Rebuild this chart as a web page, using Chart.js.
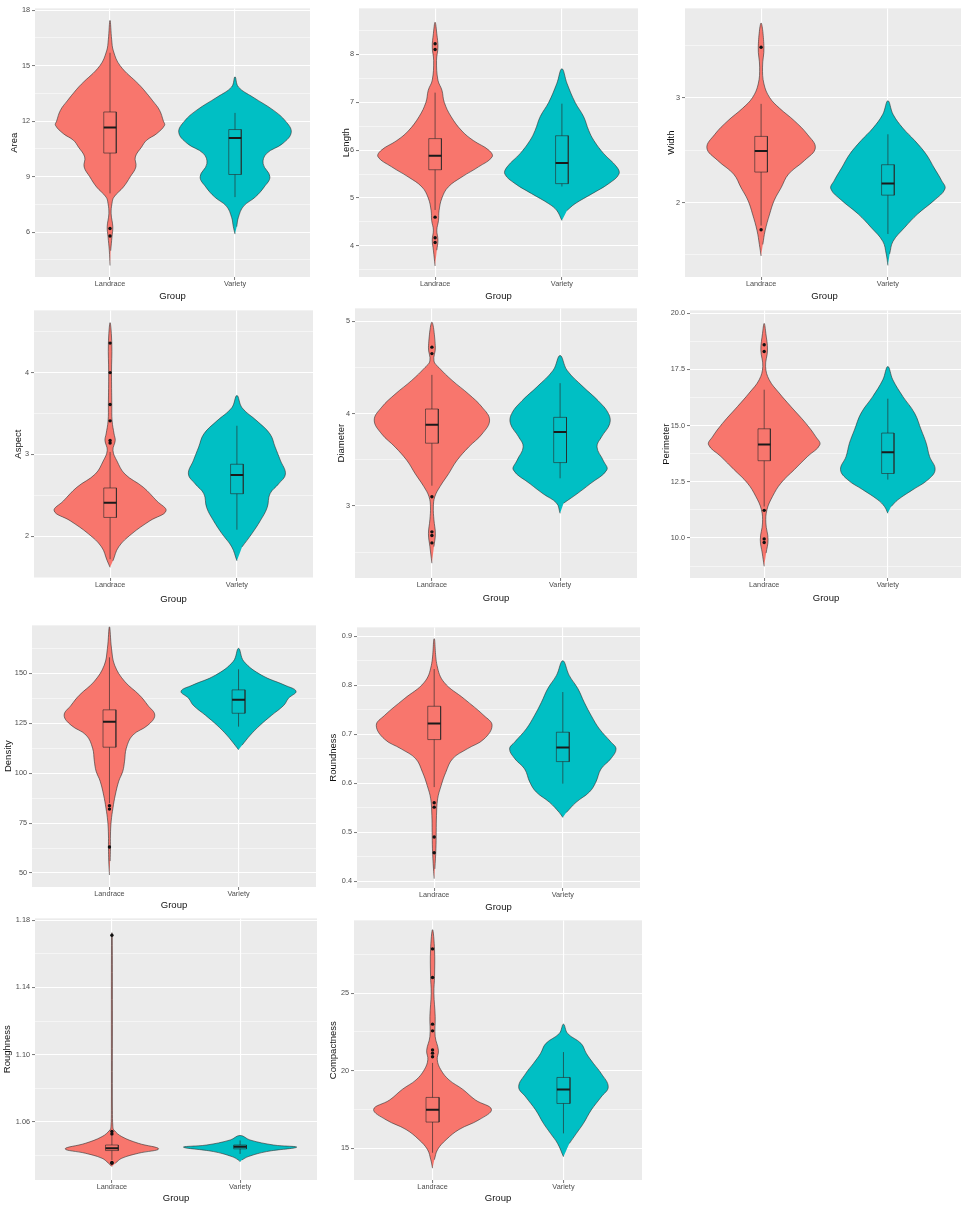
<!DOCTYPE html>
<html><head><meta charset="utf-8">
<script src="https://cdn.jsdelivr.net/npm/chart.js@4.4.1/dist/chart.umd.min.js"></script>
<style>
html,body{margin:0;padding:0;background:#fff;width:961px;height:1207px;overflow:hidden;position:relative}
.pn{position:absolute}
</style></head><body>
<script>
// ---------- DATA ----------
const GROUPS = ['Landrace', 'Variety'];
const COLORS = ['#F8766D', '#00BFC4'];
const X_TITLE = 'Group';

// violin profiles: [value, relative density width]
// box stats: [lower whisker, Q1, median, Q3, upper whisker]
const areaLandrace = [[4.2,0],[5.0,0.012],[5.75,0.035],[6.3,0.05],[7.0,0.02],[7.55,0.035],[7.9,0.07],[8.45,0.24],[9.0,0.36],[9.53,0.46],[10.07,0.45],[10.6,0.56],[10.97,0.65],[11.33,0.83],[11.78,0.97],[12.0,0.95],[12.6,0.88],[13.1,0.76],[13.7,0.6],[14.0,0.51],[15.0,0.18],[15.8,0.06],[16.4,0.03],[17.45,0]];
const areaVariety = [[5.9,0],[6.3,0.03],[6.8,0.06],[7.4,0.15],[7.9,0.36],[8.45,0.52],[9.0,0.62],[9.7,0.5],[10.25,0.56],[10.8,0.85],[11.4,1.0],[12.0,0.9],[12.6,0.68],[13.3,0.32],[13.85,0.06],[14.4,0]];
const areaBoxLandrace = [8.1, 10.28, 11.66, 12.5, 15.7];
const areaBoxVariety = [7.9, 9.12, 11.1, 11.55, 12.45];
const areaOutLandrace = [6.2, 5.8];
const areaOutVariety = [];
const areaTicks = [6, 9, 12, 15, 18];
const areaTickLabels = ['6', '9', '12', '15', '18'];
const areaMinor = [4.5, 7.5, 10.5, 13.5, 16.5];

const lengthLandrace = [[3.58,0],[3.91,0.03],[4.12,0.05],[4.33,0.03],[4.53,0.06],[4.74,0.07],[5.0,0.12],[5.23,0.23],[5.44,0.47],[5.65,0.76],[5.86,1.0],[6.0,0.94],[6.2,0.67],[6.4,0.47],[6.7,0.28],[7.0,0.16],[7.25,0.12],[7.46,0.05],[7.87,0.025],[8.15,0.05],[8.43,0.03],[8.67,0]];
const lengthVariety = [[4.53,0],[4.74,0.09],[4.88,0.23],[5.09,0.53],[5.3,0.82],[5.5,1.0],[5.65,0.96],[5.93,0.73],[6.2,0.56],[6.41,0.47],[6.7,0.38],[7.0,0.23],[7.39,0.09],[7.7,0]];
const lengthBoxLandrace = [4.75, 5.59, 5.88, 6.24, 7.2];
const lengthBoxVariety = [5.24, 5.3, 5.73, 6.3, 6.97];
const lengthOutLandrace = [8.22, 8.1, 4.6, 4.17, 4.07];
const lengthOutVariety = [];
const lengthTicks = [4, 5, 6, 7, 8];
const lengthTickLabels = ['4', '5', '6', '7', '8'];
const lengthMinor = [3.5, 4.5, 5.5, 6.5, 7.5, 8.5];

const widthLandrace = [[1.49,0],[1.6,0.03],[1.73,0.07],[1.89,0.15],[2.02,0.23],[2.14,0.35],[2.27,0.48],[2.4,0.76],[2.52,0.95],[2.65,0.81],[2.78,0.58],[2.9,0.32],[3.0,0.15],[3.13,0.05],[3.29,0.025],[3.48,0.05],[3.71,0]];
const widthVariety = [[1.4,0],[1.51,0.03],[1.63,0.09],[1.76,0.29],[1.89,0.52],[2.02,0.81],[2.13,1.0],[2.21,0.94],[2.33,0.81],[2.46,0.67],[2.59,0.47],[2.71,0.26],[2.84,0.09],[2.97,0]];
const widthBoxLandrace = [1.78, 2.29, 2.49, 2.63, 2.94];
const widthBoxVariety = [1.7, 2.07, 2.18, 2.36, 2.65];
const widthOutLandrace = [3.48, 1.74];
const widthOutVariety = [];
const widthTicks = [2, 3];
const widthTickLabels = ['2', '3'];
const widthMinor = [1.5, 2.5, 3.5];

const aspectLandrace = [[1.62,0],[1.7,0.05],[1.87,0.15],[2.03,0.38],[2.19,0.7],[2.31,0.98],[2.43,0.82],[2.6,0.58],[2.76,0.26],[2.92,0.12],[3.05,0.05],[3.17,0.09],[3.25,0.07],[3.41,0.035],[3.61,0.03],[4.0,0.025],[4.35,0.03],[4.61,0]];
const aspectVariety = [[1.7,0],[1.87,0.09],[2.03,0.26],[2.19,0.41],[2.35,0.53],[2.52,0.58],[2.64,0.73],[2.76,0.85],[2.93,0.76],[3.09,0.67],[3.25,0.58],[3.41,0.35],[3.57,0.09],[3.72,0]];
const aspectBoxLandrace = [1.72, 2.23, 2.41, 2.59, 3.03];
const aspectBoxVariety = [2.08, 2.52, 2.75, 2.88, 3.35];
const aspectOutLandrace = [4.36, 4.0, 3.61, 3.41, 3.17, 3.14];
const aspectOutVariety = [];
const aspectTicks = [2, 3, 4];
const aspectTickLabels = ['2', '3', '4'];
const aspectMinor = [1.5, 2.5, 3.5, 4.5];

const diameterLandrace = [[2.38,0],[2.56,0.035],[2.7,0.06],[2.85,0.035],[2.99,0.025],[3.1,0.05],[3.21,0.14],[3.35,0.29],[3.49,0.43],[3.64,0.64],[3.78,0.87],[3.93,1.0],[4.07,0.87],[4.21,0.64],[4.36,0.35],[4.5,0.12],[4.57,0.035],[4.72,0.06],[4.99,0]];
const diameterVariety = [[2.92,0],[3.03,0.06],[3.13,0.29],[3.24,0.52],[3.39,0.81],[3.49,0.75],[3.64,0.64],[3.75,0.72],[3.89,0.86],[4.0,0.84],[4.14,0.66],[4.29,0.4],[4.47,0.12],[4.63,0]];
const diameterBoxLandrace = [3.22, 3.68, 3.88, 4.05, 4.42];
const diameterBoxVariety = [3.3, 3.47, 3.8, 3.96, 4.33];
const diameterOutLandrace = [4.72, 4.65, 3.1, 2.72, 2.68, 2.6];
const diameterOutVariety = [];
const diameterTicks = [3, 4, 5];
const diameterTickLabels = ['3', '4', '5'];
const diameterMinor = [2.5, 3.5, 4.5];

const perimeterLandrace = [[8.74,0],[9.33,0.035],[9.93,0.07],[10.67,0.03],[11.26,0.05],[11.85,0.15],[12.44,0.3],[13.04,0.54],[13.63,0.78],[14.15,1.0],[14.5,0.93],[15.1,0.75],[15.85,0.48],[16.45,0.27],[17.04,0.09],[17.63,0.025],[18.37,0.06],[19.1,0.03],[19.55,0]];
const perimeterVariety = [[11.1,0],[11.4,0.06],[11.7,0.18],[12.15,0.45],[12.59,0.72],[13.04,0.85],[13.63,0.75],[14.22,0.69],[14.81,0.6],[15.56,0.48],[16.3,0.27],[17.04,0.09],[17.63,0]];
const perimeterBoxLandrace = [11.4, 13.44, 14.16, 14.86, 16.6];
const perimeterBoxVariety = [12.6, 12.87, 13.82, 14.67, 16.2];
const perimeterOutLandrace = [18.6, 18.3, 11.23, 9.96, 9.8];
const perimeterOutVariety = [];
const perimeterTicks = [10, 12.5, 15, 17.5, 20];
const perimeterTickLabels = ['10.0', '12.5', '15.0', '17.5', '20.0'];
const perimeterMinor = [8.75, 11.25, 13.75, 16.25, 18.75];

const densityLandrace = [[49,0],[56,0.012],[62.5,0.017],[69,0.017],[76,0.03],[82.5,0.06],[89,0.1],[96,0.16],[101,0.23],[106,0.26],[112.5,0.29],[119,0.4],[124,0.66],[129,0.78],[134,0.66],[139,0.52],[146,0.26],[154,0.09],[162.5,0.035],[173.3,0]];
const densityVariety = [[111.7,0],[114,0.06],[119,0.2],[124,0.37],[129,0.57],[134,0.78],[137.5,0.86],[141,0.99],[144,0.8],[149,0.4],[156,0.09],[162.5,0]];
const densityBoxLandrace = [85, 113, 125.8, 131.7, 158];
const densityBoxVariety = [123.3, 130, 136.8, 141.7, 152];
const densityOutLandrace = [83.7, 82, 63];
const densityOutVariety = [];
const densityTicks = [50, 75, 100, 125, 150];
const densityTickLabels = ['50', '75', '100', '125', '150'];
const densityMinor = [62.5, 87.5, 112.5, 137.5, 162.5];

const roundnessLandrace = [[0.405,0],[0.425,0.012],[0.466,0.03],[0.5,0.035],[0.534,0.04],[0.568,0.06],[0.595,0.12],[0.622,0.2],[0.65,0.32],[0.67,0.57],[0.69,0.86],[0.718,1.0],[0.738,0.86],[0.772,0.52],[0.806,0.17],[0.84,0.05],[0.895,0]];
const roundnessVariety = [[0.53,0],[0.54,0.06],[0.561,0.23],[0.582,0.46],[0.602,0.57],[0.629,0.66],[0.65,0.83],[0.67,0.92],[0.684,0.83],[0.711,0.63],[0.738,0.49],[0.765,0.37],[0.793,0.26],[0.82,0.11],[0.85,0]];
const roundnessBoxLandrace = [0.592, 0.689, 0.722, 0.757, 0.833];
const roundnessBoxVariety = [0.599, 0.644, 0.673, 0.704, 0.786];
const roundnessOutLandrace = [0.56, 0.551, 0.49, 0.458];
const roundnessOutVariety = [];
const roundnessTicks = [0.4, 0.5, 0.6, 0.7, 0.8, 0.9];
const roundnessTickLabels = ['0.4', '0.5', '0.6', '0.7', '0.8', '0.9'];
const roundnessMinor = [0.45, 0.55, 0.65, 0.75, 0.85];

const roughnessLandrace = [[1.0335,0],[1.0355,0.06],[1.0384,0.17],[1.0414,0.46],[1.044,0.81],[1.0473,0.46],[1.0513,0.17],[1.0552,0.035],[1.0572,0.017],[1.067,0.009],[1.1265,0.009],[1.171,0.006],[1.1725,0]];
const roughnessVariety = [[1.0364,0],[1.0374,0.03],[1.0394,0.14],[1.0424,0.46],[1.045,0.98],[1.0463,0.58],[1.0493,0.17],[1.052,0]];
const roughnessBoxLandrace = [1.0374, 1.043, 1.0443, 1.0463, 1.0517];
const roughnessBoxVariety = [1.041, 1.044, 1.0452, 1.0463, 1.049];
const roughnessOutLandrace = [1.171, 1.0543, 1.0528, 1.036, 1.0355];
const roughnessOutVariety = [];
const roughnessTicks = [1.06, 1.10, 1.14, 1.18];
const roughnessTickLabels = ['1.06', '1.10', '1.14', '1.18'];
const roughnessMinor = [1.04, 1.08, 1.12, 1.16];

const compactnessLandrace = [[13.7,0],[14.25,0.03],[14.9,0.085],[15.54,0.23],[16.2,0.45],[16.83,0.79],[17.5,1.0],[18.1,0.73],[18.8,0.51],[19.4,0.28],[20.06,0.14],[20.7,0.08],[21.3,0.1],[22.2,0.045],[23.5,0.045],[25,0.023],[26.1,0.034],[27.8,0.034],[29.1,0]];
const compactnessVariety = [[14.44,0],[15.3,0.1],[15.95,0.22],[16.6,0.34],[17.45,0.47],[18.3,0.64],[18.95,0.76],[19.82,0.64],[20.46,0.51],[21.1,0.39],[21.75,0.3],[22.4,0.07],[23.0,0]];
const compactnessBoxLandrace = [14.7, 16.68, 17.47, 18.27, 20.5];
const compactnessBoxVariety = [15.95, 17.88, 18.79, 19.56, 21.2];
const compactnessOutLandrace = [27.86, 26.01, 23.0, 22.57, 21.34, 21.13, 20.9];
const compactnessOutVariety = [];
const compactnessTicks = [15, 20, 25];
const compactnessTickLabels = ['15', '20', '25'];
const compactnessMinor = [17.5, 22.5, 27.5];

// ---------- LAYOUT ----------
const panels = [
  {title:'Area', v:[areaLandrace,areaVariety], b:[areaBoxLandrace,areaBoxVariety], o:[areaOutLandrace,areaOutVariety], t:areaTicks, tl:areaTickLabels, m:areaMinor, plot:[35,8,310,277], yr:[3.58,18.1], tg:20, xo:19},
  {title:'Length', v:[lengthLandrace,lengthVariety], b:[lengthBoxLandrace,lengthBoxVariety], o:[lengthOutLandrace,lengthOutVariety], t:lengthTicks, tl:lengthTickLabels, m:lengthMinor, plot:[359,8,638,277], yr:[3.35,8.96], tg:12, xo:19},
  {title:'Width', v:[widthLandrace,widthVariety], b:[widthBoxLandrace,widthBoxVariety], o:[widthOutLandrace,widthOutVariety], t:widthTicks, tl:widthTickLabels, m:widthMinor, plot:[685,8,964,277], yr:[1.29,3.85], tg:13, xo:19},
  {title:'Aspect', v:[aspectLandrace,aspectVariety], b:[aspectBoxLandrace,aspectBoxVariety], o:[aspectOutLandrace,aspectOutVariety], t:aspectTicks, tl:aspectTickLabels, m:aspectMinor, plot:[34,310,313,578], yr:[1.49,4.76], tg:15, xo:21},
  {title:'Diameter', v:[diameterLandrace,diameterVariety], b:[diameterBoxLandrace,diameterBoxVariety], o:[diameterOutLandrace,diameterOutVariety], t:diameterTicks, tl:diameterTickLabels, m:diameterMinor, plot:[355,308,637,578], yr:[2.22,5.14], tg:13, xo:20},
  {title:'Perimeter', v:[perimeterLandrace,perimeterVariety], b:[perimeterBoxLandrace,perimeterBoxVariety], o:[perimeterOutLandrace,perimeterOutVariety], t:perimeterTicks, tl:perimeterTickLabels, m:perimeterMinor, plot:[690,310,962,578], yr:[8.22,20.13], tg:23, xo:20},
  {title:'Density', v:[densityLandrace,densityVariety], b:[densityBoxLandrace,densityBoxVariety], o:[densityOutLandrace,densityOutVariety], t:densityTicks, tl:densityTickLabels, m:densityMinor, plot:[32,625,316,887], yr:[43,174], tg:23, xo:18},
  {title:'Roundness', v:[roundnessLandrace,roundnessVariety], b:[roundnessBoxLandrace,roundnessBoxVariety], o:[roundnessOutLandrace,roundnessOutVariety], t:roundnessTicks, tl:roundnessTickLabels, m:roundnessMinor, plot:[357,627,640,888], yr:[0.386,0.918], tg:23, xo:19},
  {title:'Roughness', v:[roughnessLandrace,roughnessVariety], b:[roughnessBoxLandrace,roughnessBoxVariety], o:[roughnessOutLandrace,roughnessOutVariety], t:roughnessTicks, tl:roughnessTickLabels, m:roughnessMinor, plot:[35,918,317,1180], yr:[1.0255,1.181], tg:27, xo:18},
  {title:'Compactness', v:[compactnessLandrace,compactnessVariety], b:[compactnessBoxLandrace,compactnessBoxVariety], o:[compactnessOutLandrace,compactnessOutVariety], t:compactnessTicks, tl:compactnessTickLabels, m:compactnessMinor, plot:[354,920,642,1180], yr:[12.94,29.7], tg:20, xo:18}
];

// ---------- STYLE ----------
const FONT = '"Liberation Sans", Arial, Helvetica, sans-serif';
const TICK_SIZE = 7.3, TITLE_SIZE = 9.5;
const HALF_VIOLIN = 0.45, HALF_BOX = 0.05;
const PAD_TOP = 6, PAD_RIGHT = 4;
const OUTLINE = 'rgba(45,45,45,0.85)';

Chart.defaults.font.family = FONT;
Chart.defaults.animation = false;

const bgPlugin = {
  id: 'panelBg',
  beforeDraw(chart) {
    const a = chart.chartArea, c = chart.ctx;
    c.save(); c.fillStyle = '#EBEBEB';
    c.fillRect(a.left, a.top, a.right - a.left, a.bottom - a.top);
    c.restore();
  }
};

function near(a, b) { return Math.abs(a - b) < 1e-9; }

function buildDatasets(p) {
  const ds = [];
  GROUPS.forEach((g, gi) => {
    const c = gi + 1;
    const prof = p.v[gi];
    const left = prof.map(([y, w]) => ({x: c - w * HALF_VIOLIN, y}));
    const right = prof.slice().reverse().slice(1, -1).map(([y, w]) => ({x: c + w * HALF_VIOLIN, y}));
    ds.push({data: left.concat(right), fill: 'shape', backgroundColor: COLORS[gi], borderColor: OUTLINE,
      borderWidth: 0.7, tension: 0.4, pointRadius: 0, order: 9});
    const [lo, q1, med, q3, hi] = p.b[gi];
    ds.push({data: [{x: c, y: lo}, {x: c, y: hi}], borderColor: 'rgba(40,40,40,0.9)', borderWidth: 0.7,
      pointRadius: 0, fill: false, order: 8});
    ds.push({data: [{x: c - HALF_BOX, y: q1}, {x: c - HALF_BOX, y: q3}, {x: c + HALF_BOX, y: q3},
      {x: c + HALF_BOX, y: q1}, {x: c - HALF_BOX, y: q1}], fill: 'shape', backgroundColor: COLORS[gi],
      borderColor: 'rgba(40,40,40,0.85)', borderWidth: 0.7, pointRadius: 0, tension: 0, order: 7});
    ds.push({data: [{x: c - HALF_BOX, y: med}, {x: c + HALF_BOX, y: med}], borderColor: '#1a1a1a',
      borderWidth: 2, pointRadius: 0, fill: false, order: 6});
    ds.push({data: p.o[gi].map(y => ({x: c, y})), showLine: false, pointRadius: 1.7,
      pointBackgroundColor: '#111', pointBorderWidth: 0, order: 5});
  });
  return ds;
}

panels.forEach(p => {
  const [pl, pt, pr, pb] = p.plot;
  const yw = p.tg + TITLE_SIZE * 1.2 / 2;
  const xh = p.xo + TITLE_SIZE * 1.2 / 2;
  const cl = Math.round(pl - yw), ct = pt - PAD_TOP, cw = Math.round(pr + PAD_RIGHT - cl), chh = Math.round(pb + xh - ct);
  const div = document.createElement('div');
  div.className = 'pn';
  div.style.left = cl + 'px'; div.style.top = ct + 'px';
  div.style.width = cw + 'px'; div.style.height = chh + 'px';
  const cv = document.createElement('canvas');
  cv.width = cw; cv.height = chh; cv.style.width = cw + 'px'; cv.style.height = chh + 'px';
  div.appendChild(cv); document.body.appendChild(div);
  const yw2 = pl - cl, xh2 = ct + chh - pb;
  const allY = p.t.concat(p.m).filter(v => v >= p.yr[0] && v <= p.yr[1]).sort((a, b) => a - b);
  const isMajor = v => p.t.some(m => near(m, v));

  new Chart(cv, {
    type: 'line',
    data: {datasets: buildDatasets(p)},
    plugins: [bgPlugin],
    options: {
      responsive: false, animation: false, devicePixelRatio: 1, events: [],
      layout: {padding: {top: PAD_TOP, right: PAD_RIGHT, left: 0, bottom: 0}},
      plugins: {legend: {display: false}, tooltip: {enabled: false}},
      scales: {
        x: {
          type: 'linear', min: 0.4, max: 2.6,
          afterBuildTicks: ax => { ax.ticks = GROUPS.map((g, i) => ({value: i + 1})); },
          afterFit: ax => { ax.height = xh2; },
          ticks: {autoSkip: false, maxRotation: 0, padding: 0, color: '#4D4D4D',
            font: {size: TICK_SIZE}, callback: v => GROUPS[Math.round(v) - 1]},
          grid: {color: '#FFFFFF', lineWidth: 1.1, drawTicks: true, tickLength: 3,
            tickColor: '#555', tickWidth: 0.8},
          border: {display: false},
          title: {display: true, text: X_TITLE, color: '#111', font: {size: TITLE_SIZE}, padding: 0}
        },
        y: {
          type: 'linear', min: p.yr[0], max: p.yr[1],
          afterBuildTicks: ax => { ax.ticks = allY.map(v => ({value: v})); },
          afterFit: ax => { ax.width = yw2; },
          ticks: {autoSkip: false, padding: 2, color: '#4D4D4D', font: {size: TICK_SIZE},
            callback: v => { const i = p.t.findIndex(m => near(m, v)); return i >= 0 ? p.tl[i] : ''; }},
          grid: {color: '#FFFFFF', lineWidth: c => isMajor(c.tick.value) ? 1.1 : 0.5,
            drawTicks: true, tickLength: 3,
            tickColor: c => isMajor(c.tick.value) ? '#555' : 'rgba(0,0,0,0)', tickWidth: 0.8},
          border: {display: false},
          title: {display: true, text: p.title, color: '#111', font: {size: TITLE_SIZE}, padding: 0}
        }
      }
    }
  });
});
</script>
</body></html>
